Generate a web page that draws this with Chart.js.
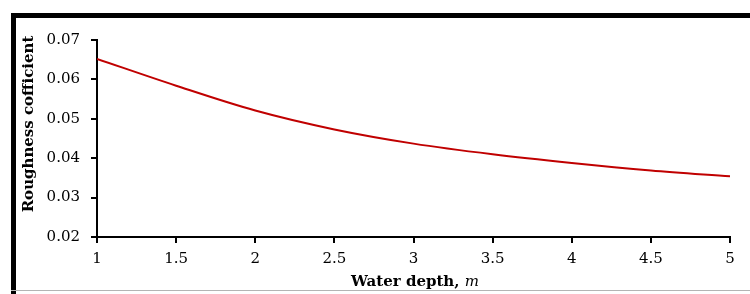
<!DOCTYPE html>
<html>
<head>
<meta charset="utf-8">
<script src="https://cdn.jsdelivr.net/npm/chart.js@4/dist/chart.umd.min.js"></script>
<style>
  html, body { margin: 0; padding: 0; background: #fff; }
  canvas { display: block; }
</style>
</head>
<body>
<canvas id="chart" width="750" height="294"></canvas>
<script>

// water depth (m) and roughness
const depths    = [1, 1.5, 2, 2.5, 3, 3.5, 4, 4.5, 5]
const roughness = [0.0652, 0.0584, 0.0521, 0.0473, 0.0437, 0.0410, 0.0388, 0.0369, 0.0354]

const xTitle = 'Water depth, '
const xUnit  = 'm'
const yTitle = 'Roughness cofficient'

const FONT = '"DejaVu Serif", "Liberation Serif", serif'


// frame lines of the figure + the two axis titles
const decor = {
      id: 'decor',
      beforeDraw(chart){
            const ctx = chart.ctx
            ctx.save()
            ctx.fillStyle = '#fff'
            ctx.fillRect(0, 0, chart.width, chart.height)
            ctx.fillStyle = '#000'
            ctx.fillRect(11, 13, chart.width - 11, 5)   // top bar
            ctx.fillRect(11, 13, 5, chart.height - 13)  // left bar
            ctx.fillStyle = '#b4b4b4'
            ctx.fillRect(11, 290, chart.width - 11, 1)  // bottom thin line
            ctx.restore()
      },
      afterDraw(chart){
            const ctx = chart.ctx
            ctx.save()
            ctx.fillStyle = '#000'
            ctx.textBaseline = 'middle'

            // x title, with the unit in italic
            ctx.font = 'bold 15px ' + FONT
            const w1 = ctx.measureText(xTitle).width
            ctx.font = 'italic 15px ' + FONT
            const w2 = ctx.measureText(xUnit).width
            let x = 415 - (w1 + w2) / 2
            ctx.font = 'bold 15px ' + FONT
            ctx.textAlign = 'left'
            ctx.fillText(xTitle, x, 282)
            ctx.font = 'italic 15px ' + FONT
            ctx.fillText(xUnit, x + w1, 282)

            // y title
            ctx.translate(29, 124)
            ctx.rotate(-Math.PI / 2)
            ctx.textAlign = 'center'
            ctx.font = 'bold 15px ' + FONT
            ctx.fillText(yTitle, 0, 0)
            ctx.restore()
      }
}


const setup = {
      type: 'line',
      data: {
            datasets: [{
                  data: depths.map((d, i) => ({ x: d, y: roughness[i] })),
                  borderColor: '#c00000',
                  borderWidth: 2,
                  pointRadius: 0,
                  tension: 0.4,
                  cubicInterpolationMode: 'monotone',
                  fill: false
            }]
      },
      options: {
            responsive: false,
            animation: false,
            layout: { padding: { top: 40, right: 20, left: 0, bottom: 0 } },
            plugins: {
                  legend: { display: false },
                  tooltip: { enabled: false }
            },
            scales: {
                  x: {
                        type: 'linear',
                        min: 1, max: 5,
                        ticks: { stepSize: 0.5, color: '#000', padding: 7,
                                 font: { family: FONT, size: 15 }, maxRotation: 0,
                                 callback: (v) => String(Math.round(v * 10) / 10) },
                        grid: { drawOnChartArea: false, drawTicks: true, tickLength: 6,
                                color: '#000', lineWidth: 2 },
                        border: { display: true, color: '#000', width: 2 },
                        afterFit: (s) => { s.height = 57 }
                  },
                  y: {
                        min: 0.02, max: 0.07,
                        ticks: { stepSize: 0.01, color: '#000', padding: 11,
                                 font: { family: FONT, size: 15 },
                                 callback: (v) => v.toFixed(2) },
                        grid: { drawOnChartArea: false, drawTicks: true, tickLength: 6,
                                color: '#000', lineWidth: 2 },
                        border: { display: true, color: '#000', width: 2 },
                        afterFit: (s) => { s.width = 97 }
                  }
            }
      },
      plugins: [decor]
}

new Chart(document.getElementById('chart'), setup)

</script>
</body>
</html>
